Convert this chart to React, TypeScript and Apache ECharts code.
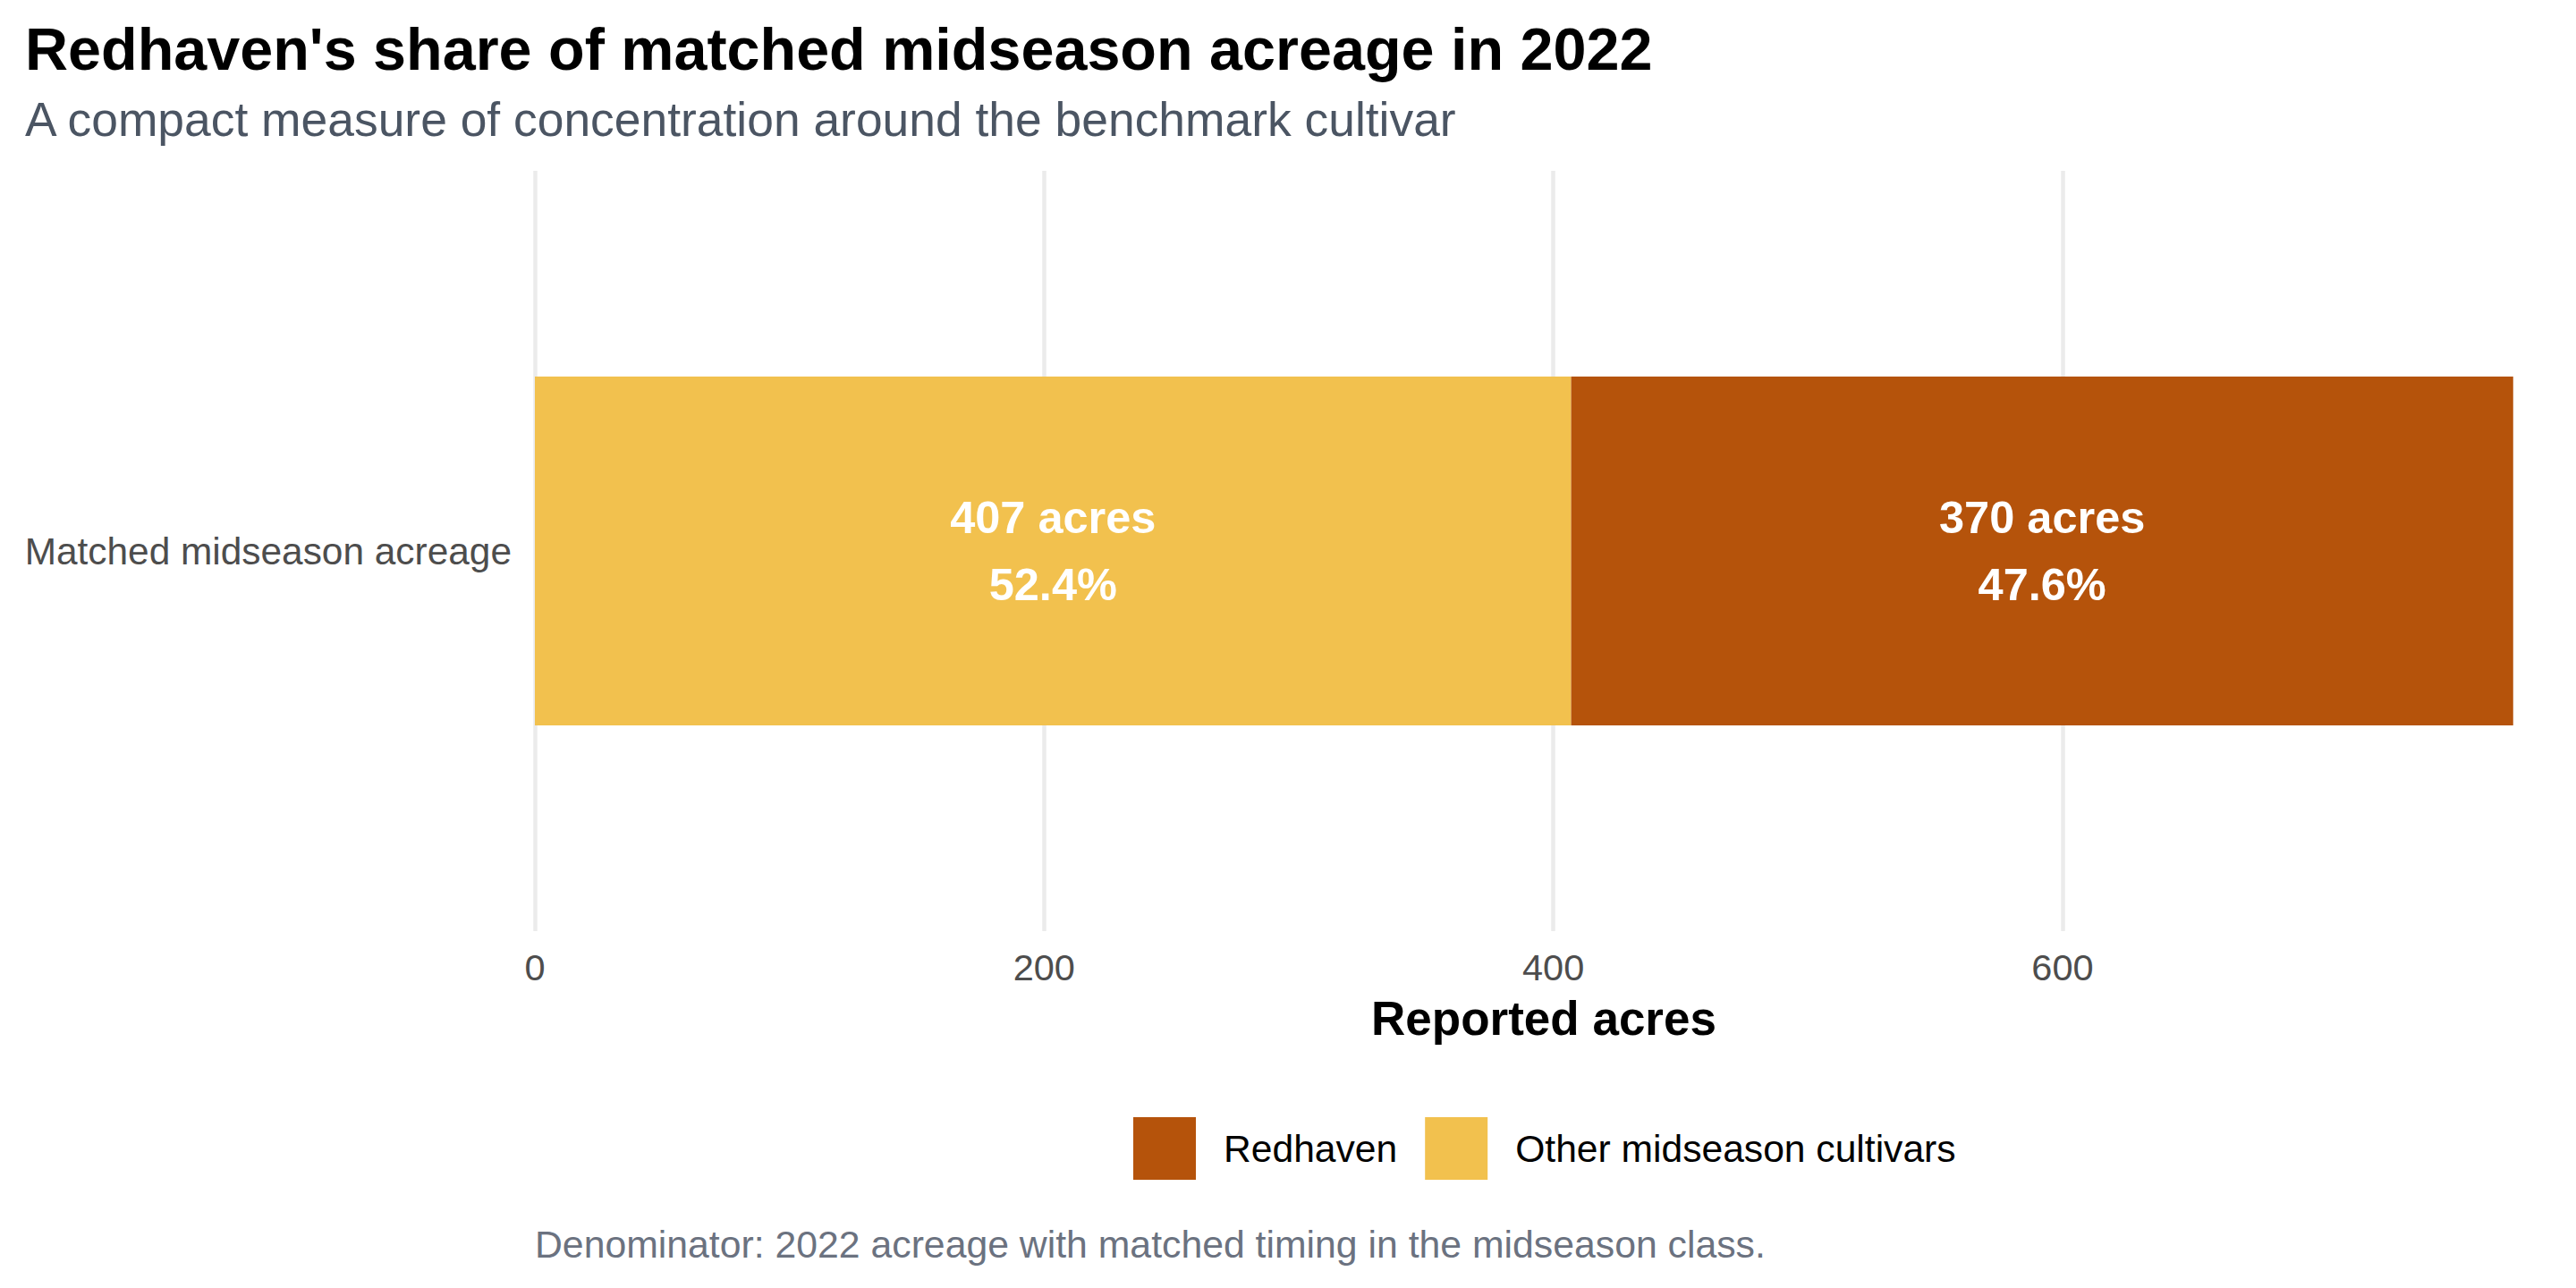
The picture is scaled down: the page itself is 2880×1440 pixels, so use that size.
import React, { useEffect, useRef } from "react";
import * as echarts from "echarts";

const categories = ["Matched midseason acreage"];
const seriesNames = ["Other midseason cultivars", "Redhaven"];
const otherAcres = [407];
const redhavenAcres = [370];
const xTicks = [0, 200, 400, 600];
const legendOrder = ["Redhaven", "Other midseason cultivars"];
const colors = { "Redhaven": "#B5530B", "Other midseason cultivars": "#F2C14E" };

const titleText = "Redhaven's share of matched midseason acreage in 2022";
const subtitleText = "A compact measure of concentration around the benchmark cultivar";
const captionText = "Denominator: 2022 acreage with matched timing in the midseason class.";
const xAxisTitle = "Reported acres";

const FONT = "'Liberation Sans', Arial, Helvetica, sans-serif";

export default function App() {
  const ref = useRef<HTMLDivElement>(null);
  useEffect(() => {
    document.body.style.margin = "0";
    if (!ref.current) return;
    const chart = echarts.init(ref.current, null, { renderer: "svg" });
    const total = otherAcres.map((v, i) => v + redhavenAcres[i]);
    const maxTotal = Math.max(...total);
    const labelFor = (vals: number[]) => (p: any) => {
      const v = vals[p.dataIndex];
      const pct = (100 * v) / total[p.dataIndex];
      return `${v} acres\n${pct.toFixed(1)}%`;
    };
    const label = (vals: number[]) => ({
      show: true,
      position: "inside",
      formatter: labelFor(vals),
      color: "#FFFFFF",
      fontFamily: FONT,
      fontWeight: "bold",
      fontSize: 50.5,
      lineHeight: 75,
    });
    chart.setOption({
      animation: false,
      backgroundColor: "#FFFFFF",
      textStyle: { fontFamily: FONT },
      grid: { left: 598, right: 26, top: 191, bottom: 399, containLabel: false },
      graphic: [
        {
          type: "text",
          left: 28,
          top: 21,
          style: { text: titleText, fontSize: 66.5, fontWeight: "bold", fill: "#000000", fontFamily: FONT },
        },
        {
          type: "text",
          left: 28,
          top: 107,
          style: { text: subtitleText, fontSize: 53.4, fill: "#4B5563", fontFamily: FONT },
        },
        {
          type: "text",
          left: 598,
          top: 1369,
          style: { text: captionText, fontSize: 42.75, fill: "#6B7280", fontFamily: FONT },
        },
      ],
      legend: {
        data: legendOrder,
        left: 1267,
        top: 1249,
        padding: 0,
        itemWidth: 70,
        itemHeight: 70,
        itemGap: 31,
        icon: "rect",
        textStyle: { fontSize: 42.6, color: "#000000", fontFamily: FONT, padding: [0, 0, 0, 26] },
      },
      xAxis: {
        type: "value",
        min: 0,
        max: maxTotal * 1.02,
        interval: 200,
        name: xAxisTitle,
        nameLocation: "middle",
        nameGap: 71,
        nameTextStyle: { fontSize: 53, fontWeight: "bold", color: "#000000", fontFamily: FONT },
        axisLine: { show: false },
        axisTick: { show: false },
        axisLabel: {
          color: "#4D4D4D",
          fontSize: 41.5,
          margin: 19,
          fontFamily: FONT,
          showMaxLabel: false,
          formatter: (v: number) => (xTicks.includes(v) ? String(v) : ""),
        },
        splitLine: { show: true, showMaxLine: false, lineStyle: { color: "#EBEBEB", width: 4.5 } },
      },
      yAxis: {
        type: "category",
        data: categories,
        axisLine: { show: false },
        axisTick: { show: false },
        axisLabel: { color: "#4D4D4D", fontSize: 42.4, margin: 26, fontFamily: FONT },
        splitLine: { show: false },
      },
      series: [
        {
          name: seriesNames[0],
          type: "bar",
          stack: "total",
          barWidth: "45.9%",
          data: otherAcres,
          itemStyle: { color: colors["Other midseason cultivars"] },
          label: label(otherAcres),
        },
        {
          name: seriesNames[1],
          type: "bar",
          stack: "total",
          barWidth: "45.9%",
          data: redhavenAcres,
          itemStyle: { color: colors["Redhaven"] },
          label: label(redhavenAcres),
        },
      ],
    });
    return () => chart.dispose();
  }, []);
  return <div ref={ref} style={{ width: 2880, height: 1440 }} />;
}
